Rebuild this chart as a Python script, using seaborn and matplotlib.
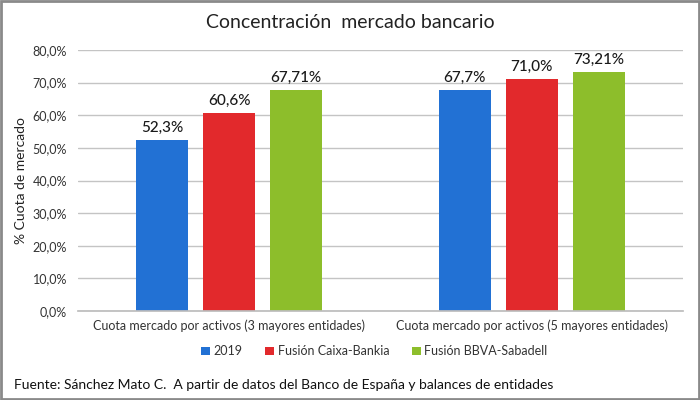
import matplotlib
matplotlib.use("Agg")
import matplotlib.pyplot as plt
import seaborn as sns
import pandas as pd
from matplotlib.patches import Rectangle

categories = ["Cuota mercado por activos (3 mayores entidades)",
              "Cuota mercado por activos (5 mayores entidades)"]
series = ["2019", "Fusión Caixa-Bankia", "Fusión BBVA-Sabadell"]
values_2019 = [52.3, 67.7]
values_caixa = [60.6, 71.0]
values_bbva = [67.71, 73.21]
labels_2019 = ["52,3%", "67,7%"]
labels_caixa = ["60,6%", "71,0%"]
labels_bbva = ["67,71%", "73,21%"]
yticks = [0, 10, 20, 30, 40, 50, 60, 70, 80]
ytick_labels = ["0,0%", "10,0%", "20,0%", "30,0%", "40,0%", "50,0%", "60,0%", "70,0%", "80,0%"]

colors = ["#2271D4", "#E2292C", "#8DBE2B"]

rows = []
for s, vals in zip(series, [values_2019, values_caixa, values_bbva]):
    for c, v in zip(categories, vals):
        rows.append({"cat": c, "serie": s, "val": v})
df = pd.DataFrame(rows)

sns.set_theme(style="white")
plt.rcParams['font.family'] = ['Lato', 'DejaVu Sans']

fig = plt.figure(figsize=(7, 4), dpi=100)
ax = fig.add_axes([78/700, 1-311/400, (683-78)/700, (311-50)/400])

sns.barplot(data=df, x="cat", y="val", hue="serie", order=categories,
            hue_order=series, palette=colors, width=0.663, gap=0.22,
            saturation=1, ax=ax, legend=True, edgecolor=None, linewidth=0)

label_sets = [labels_2019, labels_caixa, labels_bbva]
for cont, labs in zip(ax.containers, label_sets):
    for bar in cont:
        bar.set_edgecolor(bar.get_facecolor())
    ax.bar_label(cont, labels=labs, padding=4, fontsize=11, color="#1a1a1a",
                 fontweight="medium")

ax.set_ylim(0, 80)
ax.set_xlim(-0.5, 1.5)
ax.set_yticks(yticks)
ax.set_yticklabels(ytick_labels, fontsize=9, color="#333333")
ax.tick_params(axis="x", labelsize=9, colors="#333333", length=0, pad=6)
ax.tick_params(axis="y", length=0, pad=8)
ax.yaxis.grid(True, color="#c4c4c4", linewidth=1)
ax.set_axisbelow(True)
for side in ["top", "right", "left"]:
    ax.spines[side].set_visible(False)
ax.spines["bottom"].set_color("#bdbdbd")
ax.set_xlabel("")
ax.set_ylabel("% Cuota de mercado", fontsize=10, color="#222222", labelpad=4)

leg = ax.legend(loc="center", bbox_to_anchor=(0.49, -0.155), ncol=3, frameon=False,
                fontsize=9, handlelength=0.7, handleheight=0.7, handletextpad=0.3,
                columnspacing=1.8)
for t in leg.get_texts():
    t.set_color("#333333")

fig.text(0.5, 1-22/400, "Concentración  mercado bancario", ha="center", va="center",
         fontsize=14, color="#222222")
fig.text(14/700, 1-385/400,
         "Fuente: Sánchez Mato C.  A partir de datos del Banco de España y balances de entidades",
         ha="left", va="center", fontsize=10, color="#111111")

fig.patches.append(Rectangle((0.001, 0.002), 0.997, 0.995, transform=fig.transFigure,
                             fill=False, edgecolor="#8a8a8a", linewidth=2))

fig.savefig("out.png", dpi=100)
